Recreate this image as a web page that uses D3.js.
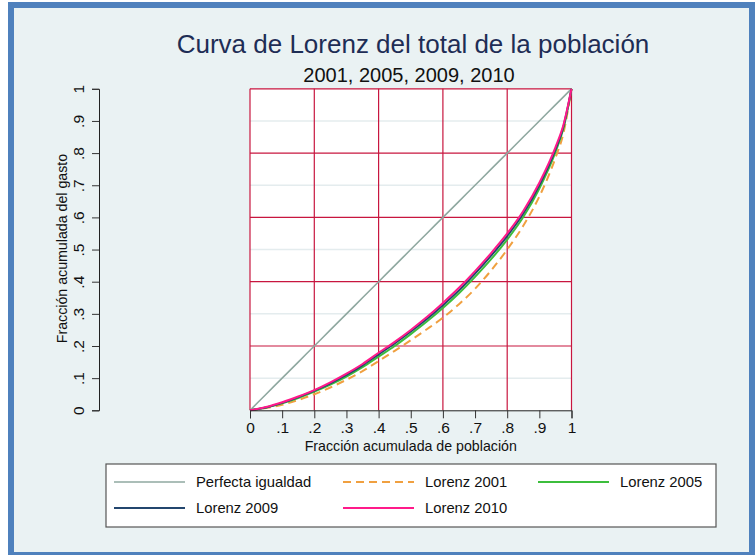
<!DOCTYPE html>
<html><head><meta charset="utf-8">
<script src="https://cdn.jsdelivr.net/npm/d3@7"></script>
<style>body{margin:0;background:#fff}svg{display:block;font-family:"Liberation Sans",Arial,sans-serif}</style>
</head><body><svg id="c" width="755" height="555"></svg>
<script>
const titleText = "Curva de Lorenz del total de la población";
const subtitleText = "2001, 2005, 2009, 2010";
const xTitle = "Fracción acumulada de población";
const yTitle = "Fracción acumulada del gasto";
const tickValues = [0,.1,.2,.3,.4,.5,.6,.7,.8,.9,1];
const tickLabels = ["0",".1",".2",".3",".4",".5",".6",".7",".8",".9","1"];
const majorGrid = [0,.2,.4,.6,.8,1];
const minorGrid = [.1,.3,.5,.7,.9];
const pop = [0,.05,.1,.15,.2,.25,.3,.35,.4,.45,.5,.55,.6,.65,.7,.75,.8,.85,.9,.95,.975,1];
const equality = [0,.05,.1,.15,.2,.25,.3,.35,.4,.45,.5,.55,.6,.65,.7,.75,.8,.85,.9,.95,.975,1];
const lorenz2001 = [0,.007,.017,.032,.050,.071,.095,.122,.153,.185,.218,.252,.288,.330,.378,.435,.500,.574,.665,.785,.862,1];
const lorenz2005 = [0,.009,.022,.038,.058,.080,.105,.134,.167,.200,.237,.276,.318,.364,.415,.470,.531,.601,.690,.803,.877,1];
const lorenz2009 = [0,.009,.023,.041,.061,.084,.110,.140,.174,.208,.245,.284,.327,.373,.425,.481,.542,.612,.700,.811,.883,1];
const lorenz2010 = [0,.010,.025,.043,.063,.087,.114,.144,.179,.213,.250,.290,.334,.381,.433,.489,.550,.620,.708,.818,.888,1];
const seriesNames = ["Perfecta igualdad","Lorenz 2001","Lorenz 2005","Lorenz 2009","Lorenz 2010"];
const seriesColors = ["#8FA8A0","#F0A040","#3CBE3C","#23466E","#FF1A8A"];
const seriesDash = [null,"8,5",null,null,null];
const seriesWidth = [1.6,2,2,2,2];
const seriesData = [equality, lorenz2001, lorenz2005, lorenz2009, lorenz2010];

const svg = d3.select("#c");
svg.append("rect").attr("x",11).attr("y",5).attr("width",741).attr("height",550)
  .attr("fill","#EAF2F3").attr("stroke","#4F81BD").attr("stroke-width",6);

const x = d3.scaleLinear().domain([0,1]).range([250,571.5]);
const y = d3.scaleLinear().domain([0,1]).range([410.3,88.8]);

svg.append("rect").attr("x",x(0)).attr("y",y(1)).attr("width",x(1)-x(0)).attr("height",y(0)-y(1)).attr("fill","#fff");
svg.append("g").selectAll("line").data(minorGrid).join("line")
  .attr("x1",x(0)).attr("x2",x(1)).attr("y1",d=>y(d)).attr("y2",d=>y(d))
  .attr("stroke","#E4ECEE").attr("stroke-width",1.5);
const gridColor = "#C8163F";
svg.append("g").selectAll("line").data(majorGrid.filter(d=>d>0)).join("line")
  .attr("x1",x(0)).attr("x2",x(1)).attr("y1",d=>y(d)).attr("y2",d=>y(d))
  .attr("stroke",gridColor).attr("stroke-width",1.2);
svg.append("g").selectAll("line").data(majorGrid).join("line")
  .attr("y1",y(0)).attr("y2",y(1)).attr("x1",d=>x(d)).attr("x2",d=>x(d))
  .attr("stroke",gridColor).attr("stroke-width",1.2);

const line = d3.line().x((d,i)=>x(pop[i])).y(d=>y(d)).curve(d3.curveMonotoneX);
seriesData.forEach((s,k)=>{
  svg.append("path").attr("d",line(s)).attr("fill","none")
    .attr("stroke",seriesColors[k]).attr("stroke-width",seriesWidth[k])
    .attr("stroke-dasharray",seriesDash[k]);
});

const xAxis = d3.axisBottom(x).tickValues(tickValues).tickFormat((d,i)=>tickLabels[i]).tickSizeOuter(0).tickSize(8);
const gx = svg.append("g").attr("transform",`translate(0,${y(0)})`).call(xAxis);
gx.select(".domain").attr("stroke","#222");
gx.selectAll(".tick line").attr("stroke","#333");
gx.selectAll("text").attr("font-size",15.5).attr("fill","#111").attr("dy","0.71em").attr("y",12)
  .attr("font-family","Liberation Sans, Arial, sans-serif");
svg.append("text").attr("x",(x(0)+x(1))/2).attr("y",451).attr("text-anchor","middle")
  .attr("font-size",14.2).attr("fill","#111").text(xTitle);

const yAx = d3.scaleLinear().domain([0,1]).range([410.3,88.8]);
const yAxis = d3.axisLeft(yAx).tickValues(tickValues).tickFormat((d,i)=>tickLabels[i]).tickSizeOuter(0).tickSize(7);
const gy = svg.append("g").attr("transform","translate(99,0)").call(yAxis);
gy.select(".domain").attr("stroke","#222");
gy.selectAll(".tick line").attr("stroke","#333");
gy.selectAll(".tick text").attr("font-size",15.5).attr("fill","#111")
  .attr("font-family","Liberation Sans, Arial, sans-serif")
  .attr("x",null).attr("dy",null).attr("text-anchor","middle")
  .attr("transform","translate(-21,0) rotate(-90)").attr("y",0).attr("dominant-baseline","central");
svg.append("text").attr("transform",`translate(67,${(y(0)+y(1))/2-1}) rotate(-90)`).attr("text-anchor","middle")
  .attr("font-size",14.2).attr("fill","#111").text(yTitle);

svg.append("text").attr("x",413).attr("y",53).attr("text-anchor","middle").attr("font-size",26)
  .attr("fill","#1E2D55").text(titleText);
svg.append("text").attr("x",409).attr("y",82).attr("text-anchor","middle").attr("font-size",20)
  .attr("fill","#111").text(subtitleText);

svg.append("rect").attr("x",106).attr("y",464).attr("width",610).attr("height",63)
  .attr("fill","#fff").attr("stroke","#555").attr("stroke-width",1.2);
const legX = [114,343,538];
const legY = [482,508];
seriesNames.forEach((n,k)=>{
  const lx = legX[k%3], ly = legY[Math.floor(k/3)];
  svg.append("line").attr("x1",lx).attr("x2",lx+71).attr("y1",ly).attr("y2",ly)
    .attr("stroke",seriesColors[k]).attr("stroke-width",seriesWidth[k]).attr("stroke-dasharray",seriesDash[k]);
  svg.append("text").attr("x",lx+82).attr("y",ly).attr("dominant-baseline","central")
    .attr("font-size",14.8).attr("fill","#111").text(n);
});
</script></body></html>
